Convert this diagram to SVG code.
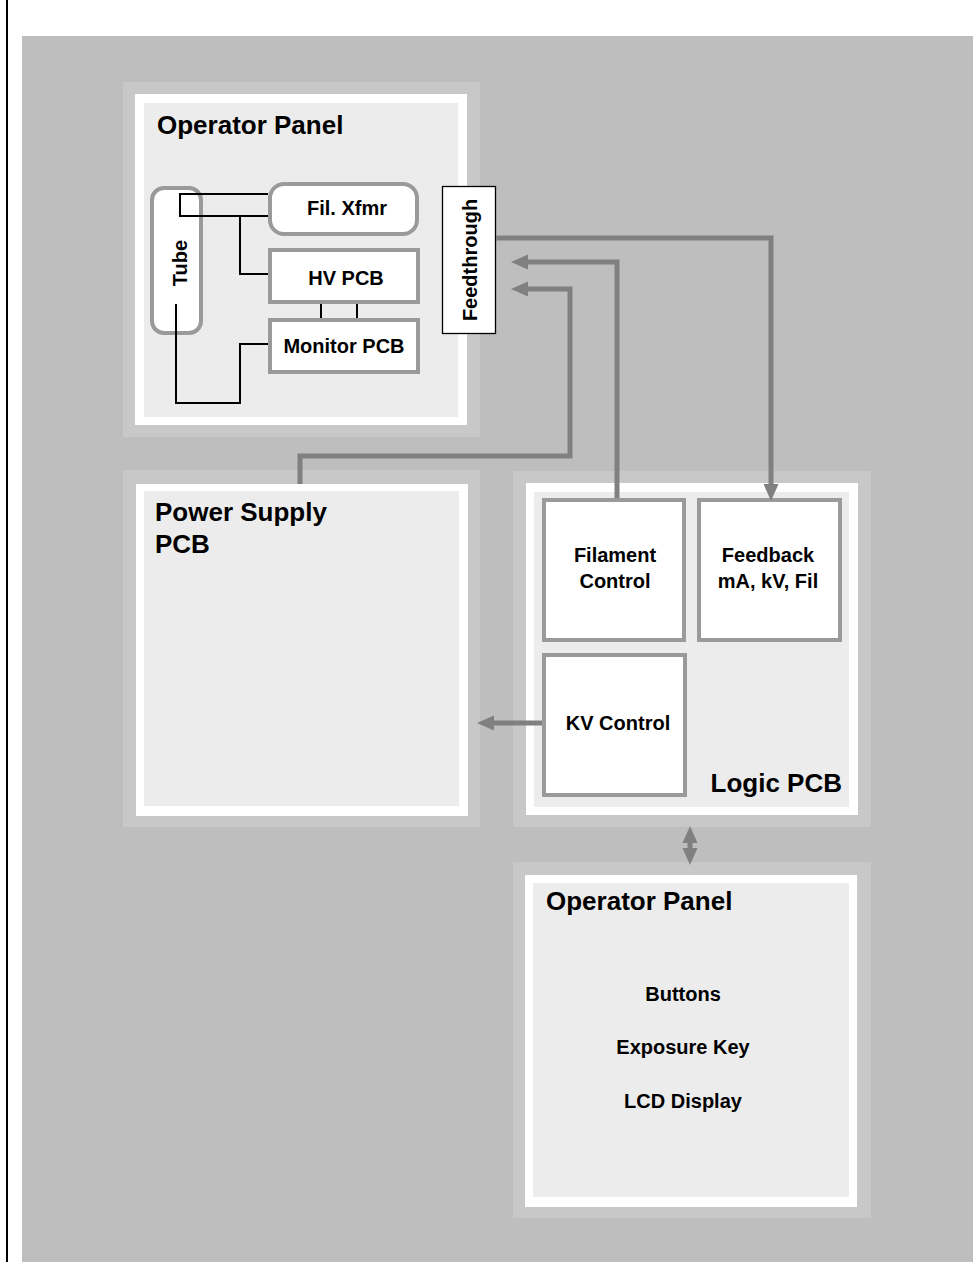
<svg xmlns="http://www.w3.org/2000/svg" width="973" height="1262" viewBox="0 0 973 1262">
<style>
.frame{fill:#c8c8c8}
.white{fill:#ffffff}
.inner{fill:#ececec}
.box{fill:#ffffff;stroke:#9a9a9a;stroke-width:4}
.wire{fill:none;stroke:#000;stroke-width:2}
.conn{fill:none;stroke:#808080;stroke-width:5;stroke-linejoin:miter}
text{font-family:"Liberation Sans",Arial,Helvetica,sans-serif;font-weight:bold;fill:#000}
.big{font-size:26px}
.sm{font-size:20px}
.mid{text-anchor:middle}
</style>
<defs>
<marker id="ah" markerUnits="userSpaceOnUse" markerWidth="20" markerHeight="18" viewBox="0 -9 20 18" refX="0" refY="0" orient="auto-start-reverse">
<path d="M0,-7.5 L17,0 L0,7.5 z" fill="#808080"/>
</marker>
</defs>
<rect x="0" y="0" width="973" height="1262" fill="#ffffff"/>
<rect x="22" y="36" width="951" height="1226" fill="#bebebe"/>
<line x1="7" y1="0" x2="7" y2="1262" stroke="#000" stroke-width="2"/>

<g id="operator-panel-top">
<rect class="frame" x="123" y="82" width="357" height="355"/>
<rect class="white" x="135" y="94" width="332" height="331"/>
<rect class="inner" x="144" y="103" width="314" height="314"/>
<text class="big" x="157" y="134">Operator Panel</text>
</g>
<g id="tube">
<rect class="box" x="152" y="188" width="49" height="145" rx="12"/>
<text class="sm mid" transform="translate(187,263) rotate(-90)">Tube</text>
</g>
<g id="fil-xfmr">
<rect class="box" x="270" y="184" width="147" height="50" rx="14"/>
<text class="sm mid" x="347" y="215">Fil. Xfmr</text>
</g>
<g id="hv-pcb">
<rect class="box" x="270" y="250" width="148" height="52"/>
<text class="sm mid" x="346" y="285">HV PCB</text>
</g>
<g id="monitor-pcb">
<rect class="box" x="270" y="320" width="148" height="52"/>
<text class="sm mid" x="344" y="353">Monitor PCB</text>
</g>
<g id="feedthrough">
<rect x="442.5" y="186.5" width="53" height="147" fill="#fff" stroke="#000" stroke-width="1.3"/>
<text class="sm mid" transform="translate(477,260) rotate(-90)">Feedthrough</text>
</g>

<g id="power-supply">
<rect class="frame" x="123" y="470" width="357" height="357"/>
<rect class="white" x="136" y="484" width="332" height="332"/>
<rect class="inner" x="144" y="491" width="315" height="315"/>
<text class="big" x="155" y="521">Power Supply</text>
<text class="big" x="155" y="553">PCB</text>
</g>

<g id="logic-pcb">
<rect class="frame" x="513" y="471" width="358" height="356"/>
<rect class="white" x="526" y="483" width="332" height="332"/>
<rect class="inner" x="534" y="492" width="315" height="315"/>
<text class="big" x="842" y="792" text-anchor="end">Logic PCB</text>
</g>
<g id="filament-control">
<rect class="box" x="544" y="500" width="140" height="140"/>
<text class="sm mid" x="615" y="562">Filament</text>
<text class="sm mid" x="615" y="588">Control</text>
</g>
<g id="feedback">
<rect class="box" x="699" y="500" width="141" height="140"/>
<text class="sm mid" x="768" y="562">Feedback</text>
<text class="sm mid" x="768" y="588">mA, kV, Fil</text>
</g>
<g id="kv-control">
<rect class="box" x="544" y="655" width="141" height="140"/>
<text class="sm mid" x="618" y="730">KV Control</text>
</g>

<g id="operator-panel-bottom">
<rect class="frame" x="513" y="862" width="358" height="356"/>
<rect class="white" x="525" y="875" width="332" height="332"/>
<rect class="inner" x="533" y="883" width="316" height="314"/>
<text class="big" x="546" y="910">Operator Panel</text>
<text class="sm mid" x="683" y="1001">Buttons</text>
<text class="sm mid" x="683" y="1054">Exposure Key</text>
<text class="sm mid" x="683" y="1108">LCD Display</text>
</g>

<g id="connectors">
<path class="wire" d="M268,194 H180 V216 H268"/>
<path class="wire" d="M240,216 V274 H268"/>
<path class="wire" d="M321,304 V318 M357,304 V318"/>
<path class="wire" d="M176,304 V403 H240 V344 H268"/>
<path class="conn" d="M496,238 H771 V484" marker-end="url(#ah)"/>
<path class="conn" d="M617,498 V262 H528" marker-end="url(#ah)"/>
<path class="conn" d="M300,484 V456 H570 V289 H528" marker-end="url(#ah)"/>
<path class="conn" d="M542,723 H494" marker-end="url(#ah)"/>
<path class="conn" d="M690,843 V848" marker-start="url(#ah)" marker-end="url(#ah)"/>
</g>
</svg>
